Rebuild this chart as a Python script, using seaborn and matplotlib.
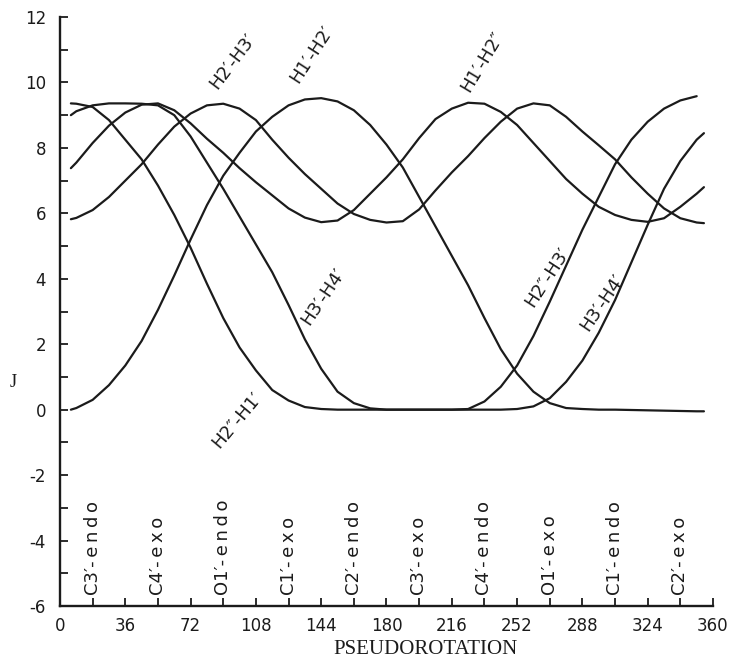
import matplotlib
matplotlib.use("Agg")
import matplotlib.pyplot as plt
import seaborn as sns
import pandas as pd
from matplotlib.ticker import MultipleLocator

P = [6, 9, 18, 27, 36, 45, 54, 63, 72, 81, 90, 99, 108, 117, 126, 135, 144, 153,
     162, 171, 180, 189, 198, 207, 216, 225, 234, 243, 252, 261, 270, 279, 288,
     297, 306, 315, 324, 333, 342, 351, 355]

# Coupling constants J (Hz) for each proton pair
J_H1_H2 = [0.0, 0.05, 0.3, 0.75, 1.35, 2.1, 3.05, 4.1, 5.2, 6.25, 7.15, 7.85, 8.5,
           8.95, 9.3, 9.48, 9.52, 9.42, 9.15, 8.7, 8.1, 7.4, 6.5, 5.6, 4.7, 3.8,
           2.8, 1.85, 1.1, 0.55, 0.2, 0.05, 0.02, 0.0, 0.0, -0.01, -0.02, -0.03,
           -0.04, -0.05, -0.05]
J_H2_H3 = [5.82, 5.86, 6.1, 6.5, 7.0, 7.5, 8.1, 8.65, 9.05, 9.3, 9.35, 9.2, 8.85,
           8.25, 7.7, 7.2, 6.75, 6.3, 5.98, 5.8, 5.72, 5.76, 6.12, 6.7, 7.25, 7.75,
           8.3, 8.8, 9.2, 9.36, 9.3, 8.95, 8.5, 8.08, 7.65, 7.1, 6.6, 6.15, 5.85,
           5.72, 5.7]
J_H1_H2pp = [7.38, 7.55, 8.15, 8.68, 9.08, 9.32, 9.36, 9.15, 8.75, 8.28, 7.85, 7.38,
             6.95, 6.55, 6.15, 5.87, 5.73, 5.78, 6.1, 6.6, 7.1, 7.65, 8.3, 8.88, 9.2,
             9.38, 9.35, 9.1, 8.7, 8.15, 7.6, 7.05, 6.6, 6.2, 5.95, 5.8, 5.74, 5.85,
             6.2, 6.6, 6.8]
J_H2pp_H3 = [9.36, 9.35, 9.25, 8.85, 8.25, 7.65, 6.85, 5.95, 4.95, 3.85, 2.8, 1.9,
             1.2, 0.6, 0.28, 0.08, 0.02, 0.0, 0.0, 0.0, 0.0, 0.0, 0.0, 0.0, 0.0,
             0.02, 0.25, 0.7, 1.35, 2.25, 3.3, 4.4, 5.5, 6.5, 7.5, 8.25, 8.8, 9.2,
             9.45, 9.58, None]
J_H3_H4 = [9.0, 9.12, 9.3, 9.36, 9.36, 9.35, 9.3, 9.0, 8.35, 7.55, 6.75, 5.9, 5.05,
           4.2, 3.2, 2.15, 1.25, 0.55, 0.2, 0.04, 0.0, 0.0, 0.0, 0.0, 0.0, 0.0,
           0.0, 0.0, 0.02, 0.1, 0.35, 0.85, 1.5, 2.35, 3.35, 4.5, 5.65, 6.75, 7.6,
           8.25, 8.45]

# Conformation names along the bottom
conf_P = [18, 54, 90, 126, 162, 198, 234, 270, 306, 342]
conf_labels = ["C3\u2032-endo", "C4\u2032-exo", "O1\u2032-endo", "C1\u2032-exo",
               "C2\u2032-endo", "C3\u2032-exo", "C4\u2032-endo", "O1\u2032-exo",
               "C1\u2032-endo", "C2\u2032-exo"]

# Curve annotations: text, P, J, angle
curve_labels = ["H2\u2032-H3\u2032", "H1\u2032-H2\u2032", "H1\u2032-H2\u2033",
                "H3\u2032-H4\u2032", "H2\u2033-H1\u2032", "H2\u2033-H3\u2032",
                "H3\u2032-H4\u2032"]
curve_label_P = [95.5, 139, 233, 145, 97.6, 268.5, 298.8]
curve_label_J = [10.64, 10.85, 10.64, 3.45, -0.33, 4.06, 3.27]
curve_label_rot = [53, 57, 59, 56, 50, 57, 56]

xticks = list(range(0, 361, 36))
yticks = list(range(-6, 13, 2))

series = {"H1'-H2'": J_H1_H2, "H2'-H3'": J_H2_H3, "H1'-H2''": J_H1_H2pp,
          "H2''-H3'": J_H2pp_H3, "H3'-H4'": J_H3_H4}
rows = []
for name, vals in series.items():
    for p, j in zip(P, vals):
        if j is not None:
            rows.append({"curve": name, "P": p, "J": j})
df = pd.DataFrame(rows)

sns.set_theme(style="ticks")
plt.rcParams["font.family"] = ["DejaVu Sans"]
plt.rcParams["axes.unicode_minus"] = False

fig = plt.figure(figsize=(7.29, 6.64), dpi=100)
ax = fig.add_axes([60 / 729, 1 - 606 / 664, 653 / 729, 589 / 664])

ink = "#1b1b1b"
sns.lineplot(data=df, x="P", y="J", units="curve", estimator=None, sort=False,
             color=ink, linewidth=1.6, ax=ax, legend=False)

ax.set_xlim(0, 360)
ax.set_ylim(-6, 12)
ax.set_xticks(xticks)
ax.set_yticks(yticks)
ax.xaxis.set_minor_locator(MultipleLocator(18))
ax.yaxis.set_minor_locator(MultipleLocator(1))
ax.tick_params(which="both", direction="in", color=ink, width=1.3, length=6)
ax.tick_params(axis="y", which="major", pad=10, labelsize=12, labelcolor=ink)
ax.tick_params(axis="x", which="major", pad=8, labelsize=12, labelcolor=ink)
for side in ["top", "right"]:
    ax.spines[side].set_visible(False)
for side in ["left", "bottom"]:
    ax.spines[side].set_linewidth(1.7)
    ax.spines[side].set_color(ink)
ax.set_xlabel("")
ax.set_ylabel("")

thin = "\u2009"
for p, t in zip(conf_P, conf_labels):
    head, tail = t.split("-")
    spaced = head + "-" + thin + thin.join(tail)
    ax.text(p, -5.65, spaced, rotation=90, ha="center", va="bottom",
            fontsize=13, color=ink)

for t, p, j, r in zip(curve_labels, curve_label_P, curve_label_J, curve_label_rot):
    ax.text(p, j, t, rotation=r, ha="center", va="center", fontsize=13,
            color=ink, rotation_mode="anchor")

fig.text(426 / 729, 1 - 650 / 664, "PSEUDOROTATION", ha="center", va="center",
         fontsize=15, family="Liberation Serif", color=ink)
fig.text(13 / 729, 1 - 382 / 664, "J", ha="center", va="center",
         fontsize=13, family="Liberation Serif", color=ink)

fig.savefig("out.png", dpi=100, facecolor="white")
